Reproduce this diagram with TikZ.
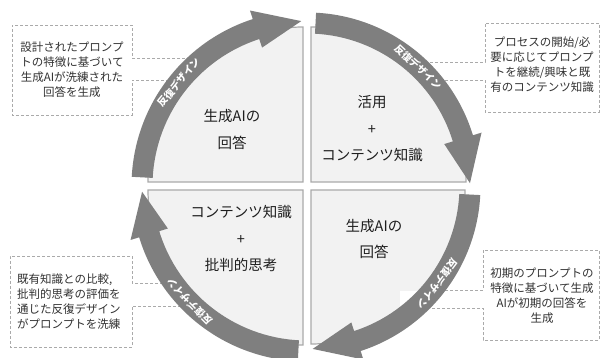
\documentclass[tikz,border=0pt]{standalone}
\usepackage{fontspec}
\setmainfont{Noto Sans CJK JP}
\definecolor{quadfill}{RGB}{242,242,242}
\definecolor{quadline}{RGB}{170,170,170}
\definecolor{arrowgray}{RGB}{127,127,127}
\definecolor{quadtxt}{RGB}{30,30,30}
\definecolor{caltxt}{RGB}{50,50,50}
\definecolor{calline}{RGB}{170,170,170}
\newcommand{\cyclearrow}[4]{% #1 tail, #2 head base, #3 tip (visual angles), #4 radius
  \fill[arrowgray] ({-(#1)}:{#4+10.5}) arc[start angle={-(#1)}, end angle={-(#2)}, radius={#4+10.5}]
    -- ({-(#2)}:{#4+19.5}) -- ({-(#3)}:{#4}) -- ({-(#2)}:{#4-19.5}) -- ({-(#2)}:{#4-10.5})
    arc[start angle={-(#2)}, end angle={-(#1)}, radius={#4-10.5}] -- cycle;}
\tikzset{
  quad/.style={fill=quadfill, draw=quadline, line width=1.2pt},
  callline/.style={draw=calline, dash pattern=on 3pt off 2pt, line width=0.9pt},
  caltext/.style={text=caltxt, inner sep=0pt, font=\fontsize{11.5}{15}\selectfont},
  quadtext/.style={text=quadtxt, inner sep=0pt, align=center, font=\fontsize{14.5}{26.5}\selectfont},
  arrowtext/.style={text=white, inner sep=0pt, font=\fontsize{10}{12}\selectfont\bfseries}
}
\begin{document}
\begin{tikzpicture}[x=1pt,y=-1pt]
\useasboundingbox (0,0) rectangle (600,358);
\fill[white] (0,0) rectangle (600,358);
% quadrants
\path[quad] (303,182) -- (303,27) arc[start angle=-90, end angle=-180, radius=155] -- cycle;
\path[quad] (311,182) -- (311,27) arc[start angle=-90, end angle=0, radius=155] -- cycle;
\path[quad] (303,190) -- (148,190) arc[start angle=180, end angle=90, radius=155] -- cycle;
\path[quad] (311,190) -- (465,190) arc[start angle=0, end angle=90, radius=154] -- cycle;
% callouts
\fill[white] (12,25) rectangle (132,115);
\path[callline] (190,58) -- (132,58) -- (132,25) -- (12,25) -- (12,115) -- (132,115) -- (132,80) -- (190,80);
\fill[white] (485,23) rectangle (599,112);
\path[callline] (425,62) -- (485,62) -- (485,23) -- (599,23) -- (599,112) -- (485,112) -- (485,80) -- (425,80);
\fill[white] (10,256) rectangle (132,347);
\path[callline] (183,283) -- (132,283) -- (132,256) -- (10,256) -- (10,347) -- (132,347) -- (132,306) -- (183,306);
\fill[white] (483,250) rectangle (599,340);
\fill[white] (400,291) rectangle (483,307);
\path[callline] (430,290) -- (483,290) -- (483,250) -- (599,250) -- (599,340) -- (483,340) -- (483,308) -- (430,308);
% arrows
\begin{scope}[shift={(307,186)}]
  \cyclearrow{177}{108}{92}{165}
  \cyclearrow{87}{17}{1}{163}
  \cyclearrow{-3}{-72}{-88}{163}
  \cyclearrow{-93}{-163}{-178}{165}
  \node[arrowtext, rotate=51] (a1) at (-141:165) {反復デザイン};
  \node[arrowtext, rotate=-43] (a2) at (-47:163) {反復デザイン};
  \node[arrowtext, rotate=-127] (a3) at (37:163) {反復デザイン};
  \node[arrowtext, rotate=134.5] (a4) at (135.5:165) {反復デザイン};
\end{scope}
% quadrant texts
\node[quadtext] (q1) at (232,129.5) {生成AIの\\回答};
\node[quadtext] (q2) at (372,129) {活用\\+\\コンテンツ知識};
\node[quadtext] (q3) at (241,239) {コンテンツ知識\\+\\批判的思考};
\node[quadtext] (q4) at (374,239) {生成AIの\\回答};
% callout texts
\node[caltext, align=center] (c1) at (72,70) {設計されたプロンプ\\トの特徴に基づいて\\生成AIが洗練された\\回答を生成};
\node[caltext, align=center] (c2) at (542,65) {プロセスの開始/必\\要に応じてプロンプ\\トを継続/興味と既\\有のコンテンツ知識};
\node[caltext, align=left, anchor=west] (c3) at (17,301.5) {既有知識との比較,\\批判的思考の評価を\\通じた反復デザイン\\がプロンプトを洗練};
\node[caltext, align=center] (c4) at (542,295.5) {初期のプロンプトの\\特徴に基づいて生成\\AIが初期の回答を\\生成};
\end{tikzpicture}
\end{document}
